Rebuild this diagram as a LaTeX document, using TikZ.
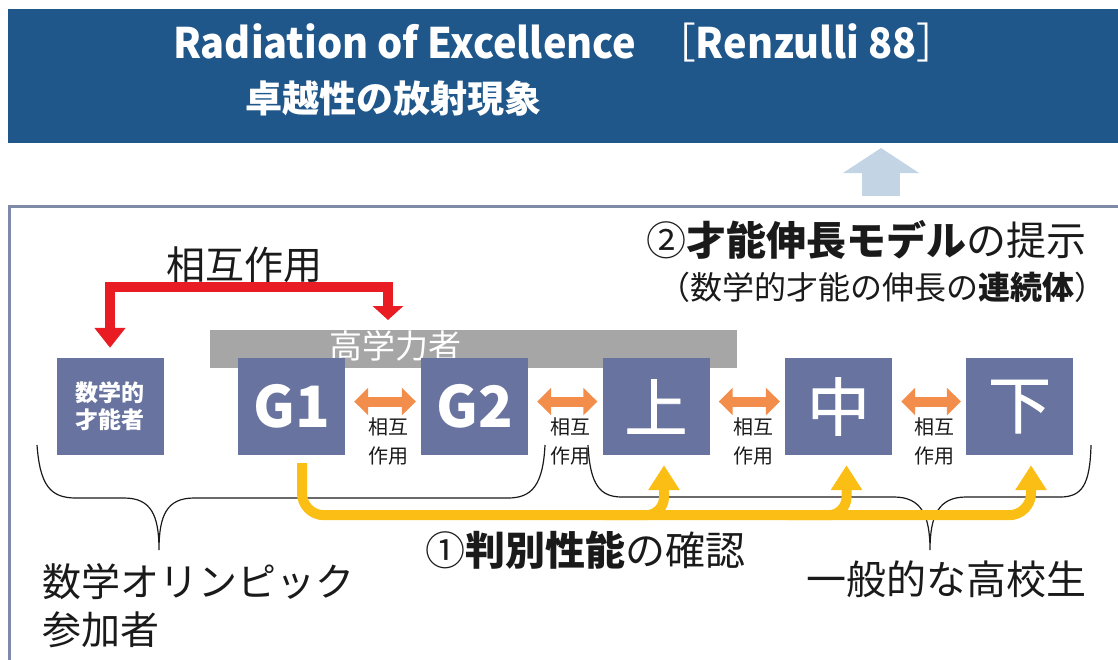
\documentclass[tikz,border=0pt]{standalone}
\usepackage{fontspec}
\setmainfont{Noto Sans CJK JP}
\newfontfamily\titlefont{Noto Sans CJK JP}[FakeStretch=0.945]
\newfontfamily\medfont{Noto Sans CJK JP}[FakeBold=1.2]
\usetikzlibrary{arrows.meta}
\definecolor{bannerblue}{HTML}{1F578B}
\definecolor{arrowblue}{HTML}{C3D5E5}
\definecolor{framecol}{HTML}{7F89A8}
\definecolor{boxcol}{HTML}{68749F}
\definecolor{barcol}{HTML}{A6A6A6}
\definecolor{redcol}{HTML}{E91C24}
\definecolor{orangecol}{HTML}{F38D4B}
\definecolor{yellowcol}{HTML}{FBBE14}
\definecolor{inkcol}{HTML}{1A1A1A}
\begin{document}
\begin{tikzpicture}[x=1pt,y=-1pt,
  tbox/.style={fill=boxcol, text=white, minimum width=107pt, minimum height=97pt, inner sep=0pt},
  lab/.style={align=center, inner sep=0pt, text=inkcol, font=\fontsize{20}{29}\selectfont},
  redarr/.style={draw=redcol, line width=10pt, {Triangle[width=30pt,length=20pt]}-{Triangle[width=30pt,length=14pt]}},
  orarr/.style={draw=orangecol, line width=10pt, {Triangle[width=27pt,length=14pt]}-{Triangle[width=27pt,length=14pt]}},
  yarr/.style={draw=yellowcol, line width=10pt, -{Triangle[width=30pt,length=25pt]}},
  bigup/.style={draw=arrowblue, line width=38pt, -{Triangle[width=75pt,length=25pt]}},
  bracestyle/.style={draw=inkcol, line width=1.2pt},
  txt/.style={inner sep=0pt, text=inkcol}]
\useasboundingbox (0,0) rectangle (1118,659);

% banner
\node[fill=bannerblue, minimum width=1110pt, minimum height=134pt, anchor=north west, inner sep=0pt] (banner) at (8,9) {};
\node[anchor=base west, text=white, inner sep=0pt, font=\titlefont\fontsize{42}{50}\selectfont\bfseries] (title) at (173,58) {Radiation of Excellence};
\node[anchor=base west, text=white, inner sep=0pt, font=\titlefont\fontsize{42}{50}\selectfont] (ref) at (656,58) {［\textbf{Renzulli 88}］};
\node[anchor=west, text=white, inner sep=0pt, font=\fontsize{37}{44}\selectfont\bfseries] (subtitle) at (245,98) {卓越性の放射現象};

% frame
\node[draw=framecol, line width=2.5pt, anchor=north west, minimum width=1140pt, minimum height=480pt, inner sep=0pt] (frame) at (8,205) {};

% up arrow
\coordinate (upfoot) at (881,196);
\coordinate (upend) at (881,148);
\draw[bigup] (upfoot) -- (upend);

% texts top
\node[txt, anchor=east, font=\fontsize{40}{40}\selectfont] (model) at (1087,240) {②\textbf{才能伸長モデル}の提示};
\node[txt, anchor=east, font=\fontsize{32}{32}\selectfont] (cont) at (1107,287) {（数学的才能の伸長の\textbf{連続体}）};
\node[txt, font=\fontsize{39}{39}\selectfont] (inter) at (244.5,265) {相互作用};

% gray bar
\node[fill=barcol, minimum width=527pt, minimum height=38pt, inner sep=0pt, anchor=north west] (bar) at (210,330) {};
\node[text=white, inner sep=0pt, font=\fontsize{33}{33}\selectfont] (barlab) at (395,346) {高学力者};

% boxes
\node[tbox, align=center, font=\fontsize{23}{27}\selectfont\bfseries] (talent) at (110,406.5) {数学的\\才能者};
\node[tbox, font=\fontsize{57}{57}\selectfont\bfseries] (g1) at (291.5,406.5) {G1};
\node[tbox, font=\fontsize{57}{57}\selectfont\bfseries] (g2) at (474.5,406.5) {G2};
\node[tbox, font=\medfont\fontsize{63}{63}\selectfont] (nup) at (656,406.5) {上};
\node[tbox, font=\medfont\fontsize{63}{63}\selectfont] (nmid) at (838.5,406.5) {中};
\node[tbox, font=\medfont\fontsize{63}{63}\selectfont] (nlow) at (1019.5,406.5) {下};

% red arrow
\coordinate (rx) at (388,0);
\path (bar.north -| rx) ++(0,-10) coordinate (redR);
\draw[redarr] ([yshift=10pt]talent.north) -- ++(0,-61) -| (redR);

% orange arrows
\draw[orarr] ([xshift=9pt,yshift=5pt]g1.east) -- ([xshift=-5pt,yshift=5pt]g2.west);
\draw[orarr] ([xshift=9pt,yshift=5pt]g2.east) -- ([xshift=-5pt,yshift=5pt]nup.west);
\draw[orarr] ([xshift=9pt,yshift=5pt]nup.east) -- ([xshift=-5pt,yshift=5pt]nmid.west);
\draw[orarr] ([xshift=9pt,yshift=5pt]nmid.east) -- ([xshift=-5pt,yshift=5pt]nlow.west);

% labels
\node[lab] (l1) at (388,441.5) {相互\\作用};
\node[lab] (l2) at (570,441.5) {相互\\作用};
\node[lab] (l3) at (753,441.5) {相互\\作用};
\node[lab] (l4) at (934,441.5) {相互\\作用};

% braces
\draw[bracestyle] (37,445) .. controls (40,485) and (50,498) .. (76,498) -- (124,498)
  .. controls (151,498) and (159,515) .. (159,550)
  .. controls (159,515) and (167,498) .. (194,498) -- (508,498)
  .. controls (532,498) and (543,485) .. (545,445);
\draw[bracestyle] (588,445) .. controls (590,485) and (600,497) .. (622,497) -- (894,497)
  .. controls (921,497) and (930,515) .. (930,550)
  .. controls (930,515) and (939,497) .. (966,497) -- (1060,497)
  .. controls (1082,497) and (1090,485) .. (1091,445);

% yellow arrows
\path ([xshift=10.5pt,yshift=-8pt]g1.south) coordinate (ys);
\path ([xshift=8pt,yshift=-10pt]nup.south) coordinate (t1);
\path ([xshift=8pt,yshift=-10pt]nmid.south) coordinate (t2);
\path ([xshift=11.5pt,yshift=-10pt]nlow.south) coordinate (t3);
\draw[yarr, rounded corners=22pt] (ys) |- ([yshift=-50pt]t3) -- (t3);
\draw[yarr, rounded corners=18pt] ([yshift=-50pt]t1) ++(-60,0) -| (t1);
\draw[yarr, rounded corners=18pt] ([yshift=-50pt]t2) ++(-60,0) -| (t2);

% bottom texts
\node[txt, font=\fontsize{40}{40}\selectfont] (judge) at (585,550) {①\textbf{判別性能}の確認};
\node[txt, anchor=west, align=left, font=\fontsize{39}{48}\selectfont] (olym) at (42,606) {数学オリンピック\\参加者};
\node[txt, anchor=east, font=\fontsize{40}{40}\selectfont] (general) at (1087,579) {一般的な高校生};
\end{tikzpicture}
\end{document}
